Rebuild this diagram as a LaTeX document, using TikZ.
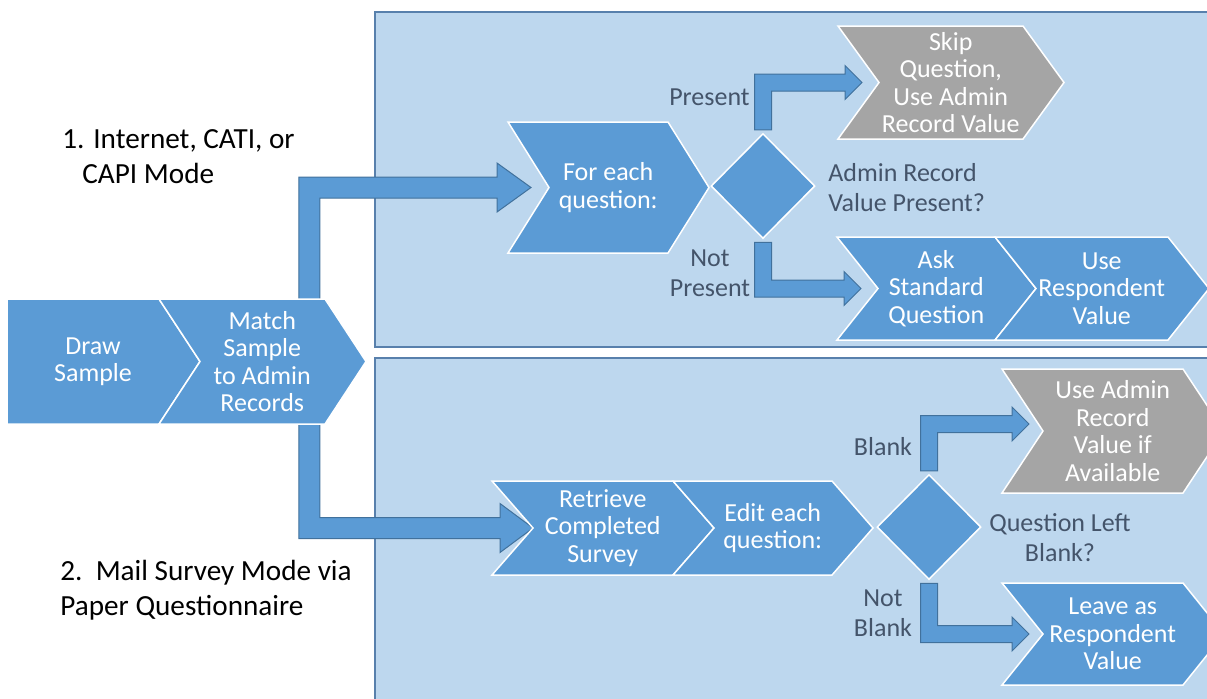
\documentclass[tikz,border=0pt]{standalone}
\usepackage{fontspec}
\setmainfont{Carlito}
\usetikzlibrary{positioning,calc,shapes.geometric,backgrounds}
\definecolor{panelfill}{RGB}{189,215,238}
\definecolor{panelline}{RGB}{88,128,172}
\definecolor{stepblue}{RGB}{91,155,213}
\definecolor{stepgray}{RGB}{165,165,165}
\definecolor{arrowline}{RGB}{65,113,156}
\definecolor{labeltext}{RGB}{68,84,106}
\tikzset{
  chevron/.style  = {draw=white, line width=0.75pt, line join=miter},
  chevtext/.style = {text=white, align=center, inner sep=0pt,
                     font=\fontsize{13}{13.75}\selectfont},
  decide/.style   = {diamond, draw=white, line width=0.75pt, fill=stepblue,
                     minimum width=52pt, minimum height=52.5pt, inner sep=0pt},
  panel/.style    = {draw=panelline, line width=0.75pt, fill=panelfill},
  blockarr/.style = {draw=arrowline, line width=0.5pt, fill=stepblue, line join=miter},
  lab/.style      = {text=labeltext, align=center, inner sep=0pt,
                     font=\fontsize{13}{15}\selectfont},
  mode/.style     = {text=black, align=left, anchor=west, inner sep=0pt,
                     font=\fontsize{14.6}{17.5}\selectfont}
}
% chevron: name, left x, right x, top y, bottom y, notch, fill, text
\newcommand{\chev}[8]{%
  \filldraw[chevron, fill=#7] (#2,#4) -- (#3,#4) -- ({#3+41},{(#4+#5)/2})
    -- (#3,#5) -- (#2,#5) -- ({#2+#6},{(#4+#5)/2}) -- cycle;
  \coordinate (#1-in) at ({#2+#6},{(#4+#5)/2});
  \node[chevtext] (#1) at ({(#2+#3)/2+#6/4+10},{(#4+#5)/2}) {#8};}
% bent block arrow: start, tip, up(1)/down(-1), half bar, head length, half head (pt)
\newcommand{\bentarrow}[6]{%
  \draw[blockarr] let \p1 = (#1), \p2 = (#2) in
    ({\x1-#4},\y1) -- ({\x1-#4},{\y2+(#3)*#4}) -- ({\x2-#5},{\y2+(#3)*#4})
    -- ({\x2-#5},{\y2+(#3)*#6}) -- (\x2,\y2) -- ({\x2-#5},{\y2-(#3)*#6})
    -- ({\x2-#5},{\y2-(#3)*#4}) -- ({\x1+#4},{\y2-(#3)*#4}) -- ({\x1+#4},\y1) -- cycle;}

\begin{document}
\begin{tikzpicture}[x=0.5pt, y=-0.5pt]
\useasboundingbox (0,0) rectangle (1207,698);
\clip (0,0) rectangle (1207,698);

% --- Felder ------------------------------------------------------
\begin{scope}[on background layer]
  \clip (0,0) rectangle (1207,698);
  \draw[panel] (375,12) rectangle (1214,347);
  \draw[panel] (375,358) rectangle (1214,706);
\end{scope}

% --- Stufen ------------------------------------------------------
\chev{draw}{7}{159}{299}{424}{0}{stepblue}{Draw\\Sample}
\chev{match}{159}{325}{299}{424}{41}{stepblue}{Match\\Sample\\to Admin\\Records}

\chev{each}{508}{668}{122}{253}{41}{stepblue}{For each\\question:}
\chev{skip}{838}{1023}{26}{139}{41}{stepgray}{Skip\\Question,\\Use Admin\\Record Value}
\chev{ask}{837}{995}{237}{340}{41}{stepblue}{Ask\\Standard\\Question}
\chev{resp}{995}{1168}{237}{340}{41}{stepblue}{Use\\Respondent\\Value}

\chev{retr}{492}{673}{481}{575}{41}{stepblue}{Retrieve\\Completed\\Survey}
\chev{edit}{673}{832}{481}{575}{41}{stepblue}{Edit each\\question:}
\chev{usead}{1002}{1183}{369}{493}{41}{stepgray}{Use Admin\\Record\\Value if\\Available}
\chev{leave}{1002}{1183}{583}{685}{41}{stepblue}{Leave as\\Respondent\\Value}

% --- Entscheidungen ----------------------------------------------
\node[decide] (tdia) at (763,186) {};
\node[decide] (bdia) at (929,527) {};

% --- Beschriftungen ----------------------------------------------
\node[lab, anchor=east] (lpres)  at (750,97)  {Present};
\node[lab] (lnotpres)            at (710,273) {Not\\Present};
\node[lab, anchor=west, align=left] (ltq) at (828,188) {Admin Record\\Value Present?};
\node[lab] (lblank)              at (883,447) {Blank};
\node[lab] (lnotblank)           at (883,613) {Not\\Blank};
\node[lab] (lbq)                 at (1060,538) {Question Left\\Blank?};

\node[mode] (mode1) at (62,157) {1. Internet, CATI, or\\\hspace*{10pt}CAPI Mode};
\node[mode] (mode2) at (60,590) {2.\ \ Mail Survey Mode via\\Paper Questionnaire};

% --- Pfeile ------------------------------------------------------
\begin{scope}[on background layer]
  \clip (0,0) rectangle (1207,698);
  \bentarrow{$(match)+(47,-58)$}{$(each-in)+(-18,0)$}{1}{5.25}{17}{12.25}
  \bentarrow{$(match)+(47,58)$}{retr-in}{-1}{5.25}{16.5}{12.25}
  \bentarrow{$(tdia.north)+(0,-3)$}{$(skip-in)+(-17,0)$}{1}{4.25}{8.5}{8.5}
  \bentarrow{$(tdia.south)+(0,3)$}{$(ask-in)+(-17,0)$}{-1}{4.25}{8.5}{8.5}
  \bentarrow{$(bdia.north)+(0,-3)$}{$(usead-in)+(-14,-7)$}{1}{4.25}{8.5}{8.5}
  \bentarrow{$(bdia.south)+(0,3)$}{$(leave-in)+(-14,0)$}{-1}{4.25}{8.5}{8.5}
\end{scope}
\end{tikzpicture}
\end{document}
